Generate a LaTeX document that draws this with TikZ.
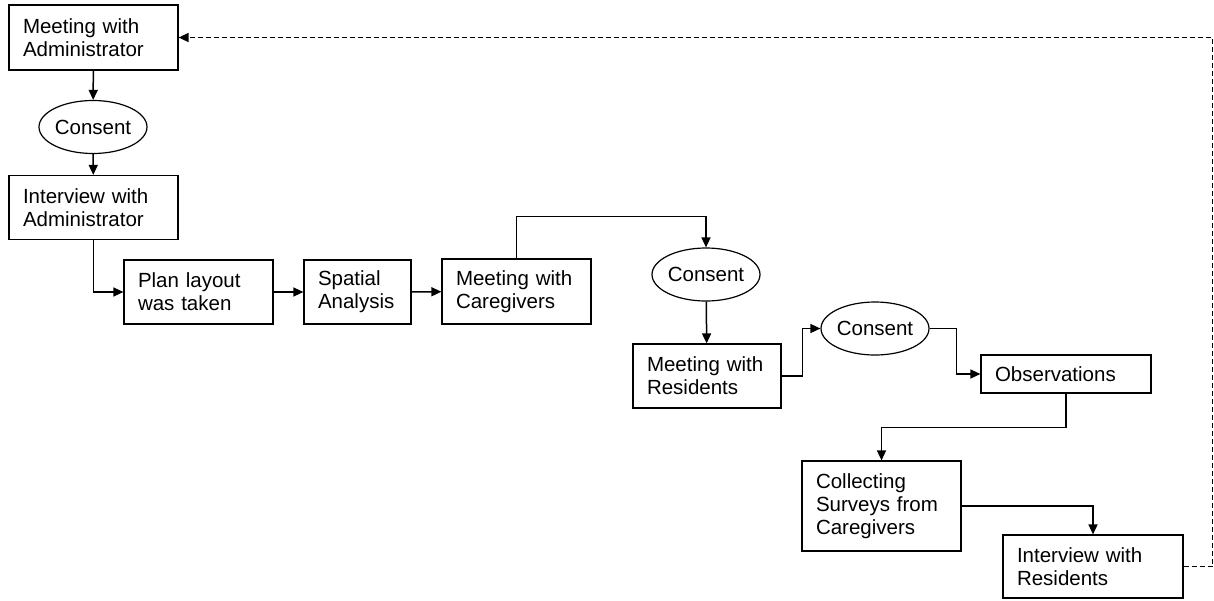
\documentclass[tikz,border=0pt]{standalone}
\usepackage{fontspec}
\setmainfont{Liberation Sans}
\usetikzlibrary{shapes.geometric,arrows.meta}
\begin{document}
\begin{tikzpicture}[x=1pt,y=-1pt,
box/.style ={rectangle, draw=black, line width=1.2pt,
  inner xsep=14pt, inner ysep=0pt, align=left,
  font=\fontsize{20.5}{23}\selectfont
},
consent/.style ={ellipse, draw=black, line width=1.2pt,
  inner sep=0pt, minimum width=106pt, minimum height=53pt,
  font=\fontsize{20.5}{23}\selectfont
},
flow/.style ={line width=1.5pt, -{Triangle[length=10pt,width=9pt]}}]
\useasboundingbox (0,0) rectangle (1214,600);
\node (ma) at (93.5,37.5) [box, text width=141pt, minimum height=65pt] {Meeting with\\Administrator};
\node (c1) at (93,127) [consent] {Consent};
\node (ia) at (93.5,207.5) [box, text width=141pt, minimum height=64pt] {Interview with\\Administrator};
\node (pl) at (198.5,292) [box, text width=121pt, minimum height=64pt] {Plan layout\\was taken};
\node (sa) at (357.5,292) [box, text width=79pt, minimum height=64pt] {Spatial\\Analysis};
\node (mc) at (516.5,291.5) [box, text width=121pt, minimum height=65pt] {Meeting with\\Caregivers};
\node (c2) at (706,274.5) [consent] {Consent};
\node (mr) at (707,376) [box, text width=120pt, minimum height=64pt] {Meeting with\\Residents};
\node (c3) at (875,328.5) [consent, minimum width=104pt] {Consent};
\node (ob) at (1066,374) [box, text width=142pt, minimum height=38pt] {Observations};
\node (cs) at (881.5,506) [box, text width=131pt, minimum height=90pt] {Collecting\\Surveys from\\Caregivers};
\node (ir) at (1093,566.5) [box, text width=152pt, minimum height=63pt] {Interview with\\Residents};
\draw [flow] (ma) -- (c1);
\draw [flow] (c1) -- (ia);
\draw [flow] (ia.south) |- (pl.west);
\draw [flow] (pl) -- (sa);
\draw [flow] (sa) -- (mc);
\draw [flow] (mc.north) -- ++(0,-42) -| (c2.north);
\draw [flow] (c2) -- (mr);
\draw [flow] (mr.east) -- ++(21,0) |- (c3.west);
\draw [flow] (c3.east) -- ++(27,0) |- (ob.west);
\draw [flow] (ob.south) -- ++(0,34) -| (cs.north);
\draw [flow] (cs.east) -| (ir.north);
\draw [flow, dash pattern=on 5pt off 3pt] (ir.east) -- ++(29,0) |- (ma.east);
\end{tikzpicture}
\end{document}
